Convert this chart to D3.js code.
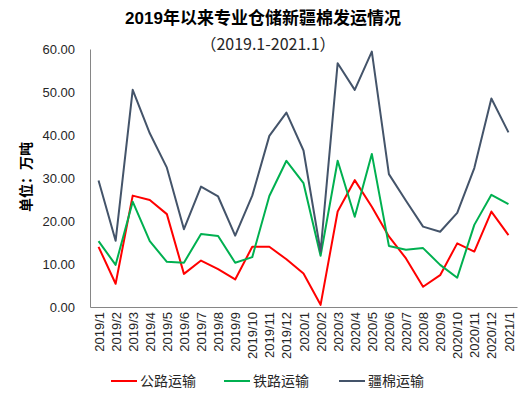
<!DOCTYPE html>
<html>
<head>
<meta charset="utf-8">
<script src="https://cdn.jsdelivr.net/npm/d3@7"></script>
<style>
  body { margin: 0; background: #fff; overflow: hidden; }
  svg { display: block; }
  text { font-family: "Liberation Sans", "Noto Sans CJK SC", sans-serif; }
</style>
</head>
<body>
<div id="chart"></div>
<script>
// Months on the x axis
const months = ["2019/1","2019/2","2019/3","2019/4","2019/5","2019/6","2019/7","2019/8","2019/9","2019/10","2019/11","2019/12",
  "2020/1","2020/2","2020/3","2020/4","2020/5","2020/6","2020/7","2020/8","2020/9","2020/10","2020/11","2020/12","2021/1"];

// Series values (万吨)
const road = [14.0, 5.4, 25.9, 24.9, 21.6, 7.7, 10.8, 8.8, 6.4, 14.0, 14.0, 11.1,
  7.8, 0.5, 22.2, 29.5, 23.3, 16.4, 11.3, 4.7, 7.4, 14.8, 12.9, 22.2, 16.7];
const rail = [15.3, 9.8, 24.5, 15.3, 10.5, 10.3, 17.0, 16.5, 10.3, 11.6, 25.8, 34.0,
  28.8, 11.9, 34.0, 21.0, 35.6, 14.2, 13.3, 13.7, 9.8, 6.8, 19.1, 26.1, 23.9];
const total = [29.4, 15.4, 50.5, 40.4, 32.4, 18.1, 28.0, 25.7, 16.6, 25.9, 39.8, 45.2,
  36.4, 12.9, 56.7, 50.5, 59.4, 30.9, 24.7, 18.7, 17.5, 21.9, 32.3, 48.5, 40.6];

const yTicks = [0, 10, 20, 30, 40, 50, 60];

const seriesNames = ["公路运输", "铁路运输", "疆棉运输"];
const seriesColours = ["#FF0000", "#00B050", "#44546A"];
const seriesData = [road, rail, total];

/*******************************/
/*    Declare the constants    */
/*******************************/
const width = 525;
const height = 395;
const margin = {top: 49, right: 8, bottom: 88, left: 90};
const innerWidth = width - margin.left - margin.right;
const innerHeight = height - margin.top - margin.bottom;

const svg = d3.select("#chart")
  .append("svg")
    .attr("width", width)
    .attr("height", height);

const innerChart = svg
  .append("g")
    .attr("transform", `translate(${margin.left}, ${margin.top})`);

/****************************/
/*    Declare the scales    */
/****************************/
const xScale = d3.scalePoint()
  .domain(months)
  .range([0, innerWidth])
  .padding(0.5);

const yScale = d3.scaleLinear()
  .domain([0, 60])
  .range([innerHeight, 0]);

/***************************/
/*     Append the axes     */
/***************************/
const bottomAxis = d3.axisBottom(xScale).tickSize(0).tickPadding(6);
const xAxis = innerChart
  .append("g")
    .attr("transform", `translate(0, ${innerHeight})`)
    .call(bottomAxis);
xAxis.select(".domain").attr("stroke", "#868686");
xAxis.selectAll("text")
  .attr("transform", "rotate(-90)")
  .attr("text-anchor", "end")
  .attr("x", -5)
  .attr("y", 0)
  .attr("dy", "0.35em")
  .style("font-size", "13px")
  .attr("fill", "#262626");

const leftAxis = d3.axisLeft(yScale)
  .tickValues(yTicks)
  .tickSize(0)
  .tickPadding(15)
  .tickFormat(d3.format(".2f"));
const yAxis = innerChart
  .append("g")
    .call(leftAxis);
yAxis.select(".domain").attr("stroke", "#868686");
yAxis.selectAll("text")
  .style("font-size", "13px")
  .attr("fill", "#262626");

// Y axis label
svg.append("text")
  .text("单位：万吨")
  .attr("transform", "translate(31, 177) rotate(-90)")
  .attr("text-anchor", "middle")
  .style("font-size", "14px")
  .style("font-weight", "bold")
  .attr("fill", "#000");

/***************************/
/*         Titles          */
/***************************/
svg.append("text")
  .text("2019年以来专业仓储新疆棉发运情况")
  .attr("x", 263)
  .attr("y", 24)
  .attr("text-anchor", "middle")
  .style("font-size", "17px")
  .style("font-weight", "bold")
  .attr("fill", "#000");

svg.append("text")
  .text("（2019.1-2021.1）")
  .attr("x", 268)
  .attr("y", 50)
  .attr("text-anchor", "middle")
  .style("font-size", "16px")
  .style("font-family", "'Noto Sans CJK SC', sans-serif")
  .attr("fill", "#262626");

/***************************/
/*         Lines           */
/***************************/
const lineGenerator = d3.line()
  .x((d, i) => xScale(months[i]))
  .y(d => yScale(d));

seriesData.forEach((values, i) => {
  innerChart
    .append("path")
      .attr("d", lineGenerator(values))
      .attr("fill", "none")
      .attr("stroke", seriesColours[i])
      .attr("stroke-width", 2)
      .attr("stroke-linejoin", "round");
});

/***************************/
/*         Legend          */
/***************************/
const legendX = [111, 224, 339];
const legend = svg.selectAll(".legend-item")
  .data(seriesNames)
  .join("g")
    .attr("class", "legend-item")
    .attr("transform", (d, i) => `translate(${legendX[i]}, 381)`);

legend.append("line")
  .attr("x1", 0)
  .attr("x2", 26)
  .attr("stroke", (d, i) => seriesColours[i])
  .attr("stroke-width", 2);

legend.append("text")
  .text(d => d)
  .attr("x", 29)
  .attr("dy", "0.35em")
  .style("font-size", "14px")
  .attr("fill", "#262626");
</script>
</body>
</html>
